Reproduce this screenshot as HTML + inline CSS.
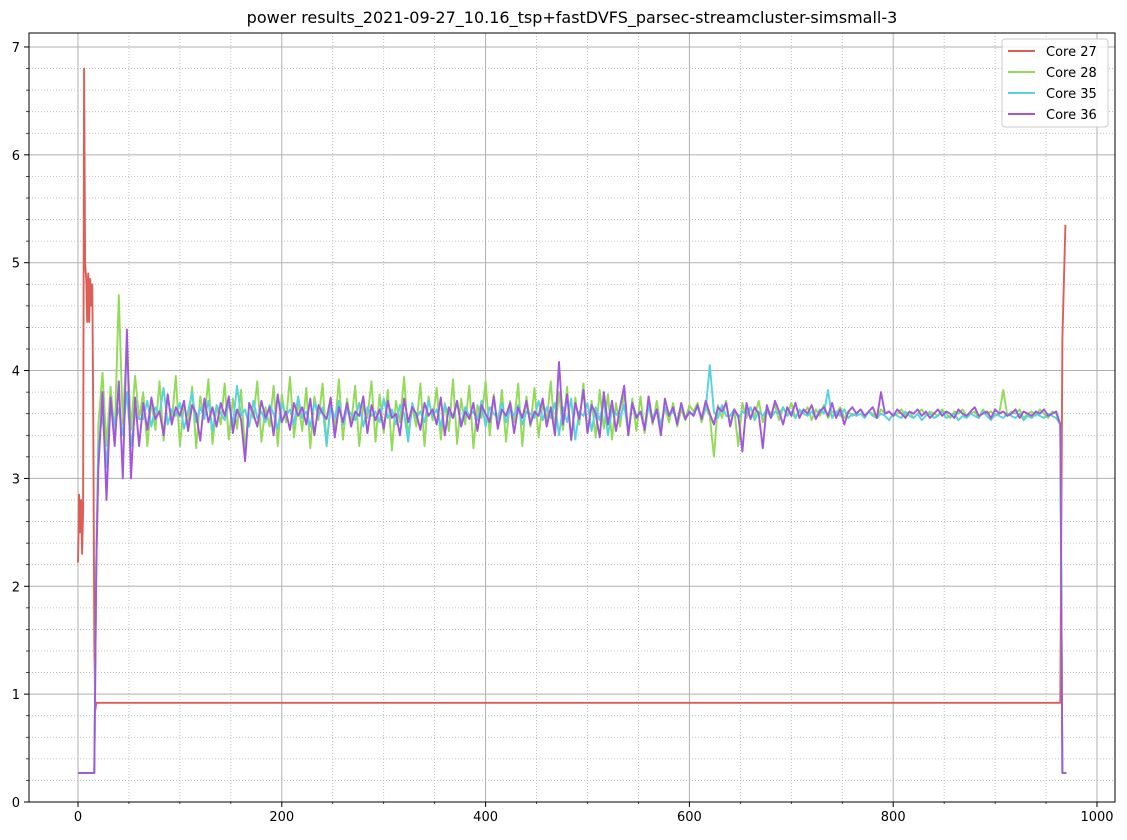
<!DOCTYPE html>
<html><head><meta charset="utf-8"><style>
body{margin:0;background:#fff;font-family:"DejaVu Sans","Liberation Sans",sans-serif}
svg text{font-family:"DejaVu Sans","Liberation Sans",sans-serif}
</style></head><body>
<svg id="chart" width="1127" height="836" xmlns="http://www.w3.org/2000/svg">
<text x="572" y="23" font-size="16" text-anchor="middle" fill="#000">power results_2021-09-27_10.16_tsp+fastDVFS_parsec-streamcluster-simsmall-3</text>
<g id="grid"></g>
<g id="series"></g>
<rect x="29" y="33" width="1086" height="769" fill="none" stroke="#000" stroke-width="1"/>
<g id="axes"></g>
<g>
<rect x="1002" y="39" width="106" height="88" rx="3" fill="#fff" fill-opacity="0.85" stroke="#ccc"/>
<g><line x1="1008" y1="51" x2="1035" y2="51" stroke="#db5f57" stroke-width="2"/><text x="1046" y="56" font-size="13">Core 27</text></g>
<g><line x1="1008" y1="72" x2="1035" y2="72" stroke="#91db57" stroke-width="2"/><text x="1046" y="77" font-size="13">Core 28</text></g>
<g><line x1="1008" y1="93" x2="1035" y2="93" stroke="#57d3db" stroke-width="2"/><text x="1046" y="98" font-size="13">Core 35</text></g>
<g><line x1="1008" y1="114" x2="1035" y2="114" stroke="#a157db" stroke-width="2"/><text x="1046" y="119" font-size="13">Core 36</text></g>
</g>
</svg>
<script>
const xTicks=[0,200,400,600,800,1000];
const yTicks=[0,1,2,3,4,5,6,7];
const core27X=[0,1,2,3,4,5,6,7,8,9,10,11,12,13,14,15,16,17,18,964,966,969];
const core27Y=[2.22,2.85,2.5,2.8,2.3,2.7,6.8,5.0,4.85,4.45,4.9,4.45,4.85,4.6,4.8,3.5,1.5,0.85,0.92,0.92,4.3,5.35];
const headX=[0,16,18];
const headY=[0.27,0.27,2.2];
const tailX=[964,966,970];
const tailY=[3.5,0.27,0.27];
const core28=[3.50,3.98,3.30,3.85,3.40,4.70,3.50,4.27,3.45,3.95,3.55,
3.80,3.30,3.72,3.45,3.90,3.35,3.78,3.52,3.95,3.30,3.70,3.48,3.85,3.28,3.76,3.55,3.92,3.32,3.68,3.50,
3.88,3.36,3.74,3.46,3.82,3.26,3.70,3.56,3.90,3.34,3.66,3.48,3.86,3.30,3.78,3.52,3.94,3.38,3.72,3.44,
3.84,3.28,3.76,3.54,3.88,3.32,3.70,3.46,3.92,3.36,3.74,3.50,3.86,3.30,3.68,3.56,3.90,3.34,3.78,3.42,
3.82,3.26,3.72,3.52,3.94,3.38,3.66,3.48,3.88,3.30,3.76,3.54,3.84,3.36,3.70,3.44,3.92,3.32,3.74,3.50,
3.86,3.28,3.68,3.56,3.90,3.40,3.78,3.46,3.82,3.34,3.72,3.52,3.88,3.30,3.76,3.48,3.84,3.38,3.70,3.54,
3.90,3.40,3.80,3.45,3.85,3.35,3.75,3.50,3.88,3.42,3.72,3.38,3.82,3.46,3.78,3.36,3.70,3.48,3.80,3.40,3.74,3.44,3.76,3.42,3.68,3.50,3.72,3.46,3.66,3.52,3.70,3.48,3.64,3.54,3.68,
3.62,3.70,3.52,3.66,3.58,3.20,3.68,3.56,3.72,3.50,3.64,3.30,3.70,3.56,3.66,3.58,3.72,3.52,3.64,3.60,3.68,3.54,3.66,3.58,3.70,3.56,3.62,3.60,3.66,3.54,3.64,3.58,3.68,3.56,3.62,3.60,3.66,3.56,3.62,3.58,
3.60,3.64,3.58,3.62,3.60,3.56,3.64,3.60,3.62,3.58,3.60,3.64,3.58,3.62,3.56,3.60,3.64,3.58,3.62,3.60,3.58,3.64,3.60,3.56,3.62,3.60,3.64,3.58,3.60,3.62,3.56,3.64,3.60,3.62,3.58,3.60,3.82,3.58,3.62,3.60,3.64,3.56,3.60,3.62,3.58,3.64,3.60,3.56,3.62,3.60];
const core35=[3.30,3.60,3.10,3.70,3.50,3.65,3.40,3.80,3.30,3.60,3.55,
3.55,3.72,3.48,3.66,3.60,3.84,3.50,3.64,3.58,3.70,3.46,3.62,3.80,3.52,3.66,3.56,3.72,3.44,3.68,3.60,
3.54,3.70,3.50,3.86,3.58,3.64,3.48,3.72,3.56,3.62,3.52,3.68,3.60,3.46,3.70,3.58,3.64,3.50,3.76,3.56,
3.62,3.48,3.70,3.58,3.66,3.30,3.68,3.56,3.72,3.50,3.64,3.60,3.54,3.70,3.48,3.66,3.58,3.62,3.52,3.74,
3.56,3.64,3.50,3.68,3.60,3.34,3.70,3.56,3.62,3.52,3.72,3.58,3.64,3.48,3.68,3.60,3.56,3.70,3.50,3.66,
3.58,3.62,3.54,3.72,3.48,3.66,3.60,3.56,3.70,3.52,3.64,3.58,3.68,3.50,3.62,3.60,3.56,3.72,3.54,3.66,
3.56,3.70,3.40,3.66,3.52,3.74,3.36,3.62,3.58,3.70,3.44,3.66,3.54,3.72,3.40,3.64,3.60,3.56,3.68,3.42,3.70,3.58,3.62,3.46,3.68,3.56,3.64,3.50,3.66,3.58,3.62,3.54,3.68,3.56,3.60,
3.60,3.66,3.56,3.64,4.05,3.62,3.56,3.68,3.58,3.58,3.64,3.56,3.62,3.60,3.66,3.54,3.62,3.58,3.64,3.56,3.62,3.60,3.66,3.58,3.62,3.56,3.64,3.60,3.58,3.62,3.56,3.64,3.60,3.82,3.56,3.62,3.58,3.64,3.56,3.60,
3.58,3.60,3.56,3.62,3.58,3.56,3.60,3.58,3.54,3.60,3.58,3.56,3.62,3.58,3.56,3.60,3.54,3.58,3.60,3.56,3.58,3.62,3.56,3.58,3.60,3.54,3.58,3.56,3.60,3.58,3.56,3.62,3.58,3.54,3.60,3.58,3.56,3.60,3.58,3.56,3.60,3.54,3.58,3.56,3.60,3.58,3.56,3.60,3.58,3.56];
const core36=[3.10,3.80,2.80,3.75,3.30,3.90,3.00,4.38,3.00,3.75,3.30,
3.70,3.45,3.75,3.55,3.62,3.40,3.78,3.50,3.66,3.58,3.72,3.44,3.68,3.60,3.35,3.74,3.52,3.66,3.48,3.70,
3.58,3.76,3.42,3.64,3.55,3.16,3.70,3.60,3.48,3.72,3.56,3.66,3.40,3.78,3.52,3.62,3.45,3.70,3.58,3.66,
3.50,3.74,3.40,3.68,3.60,3.55,3.75,3.38,3.66,3.52,3.70,3.48,3.62,3.58,3.76,3.42,3.68,3.54,3.64,3.46,
3.72,3.56,3.60,3.40,3.74,3.52,3.66,3.60,3.45,3.70,3.58,3.64,3.50,3.75,3.40,3.66,3.56,3.72,3.48,3.62,
3.55,3.70,3.44,3.68,3.60,3.52,3.76,3.46,3.64,3.58,3.70,3.42,3.66,3.56,3.72,3.50,3.62,3.58,3.74,3.48,
3.66,3.40,4.08,3.50,3.78,3.36,3.70,3.55,3.82,3.42,3.68,3.60,3.38,3.80,3.50,3.72,3.44,3.66,3.86,3.40,3.70,3.56,3.62,3.45,3.76,3.52,3.64,3.40,3.74,3.58,3.66,3.50,3.70,3.55,3.62,
3.58,3.68,3.55,3.72,3.60,3.50,3.66,3.62,3.70,3.48,3.64,3.58,3.25,3.70,3.55,3.66,3.60,3.28,3.68,3.56,3.72,3.62,3.50,3.66,3.58,3.70,3.56,3.64,3.60,3.68,3.55,3.62,3.66,3.58,3.70,3.56,3.64,3.50,3.62,3.66,
3.60,3.64,3.58,3.62,3.66,3.56,3.80,3.60,3.62,3.58,3.64,3.60,3.56,3.62,3.60,3.64,3.58,3.62,3.56,3.60,3.64,3.58,3.62,3.60,3.56,3.64,3.60,3.58,3.62,3.66,3.58,3.60,3.62,3.56,3.64,3.60,3.62,3.58,3.60,3.64,3.56,3.62,3.60,3.58,3.62,3.60,3.64,3.58,3.60,3.62];
const NS='http://www.w3.org/2000/svg';
const X0=78, XS=1.019, Y0=802, YS=107.86;
const sx=v=>X0+v*XS, sy=v=>Y0-v*YS;
function mk(tag,attrs,parent){const e=document.createElementNS(NS,tag);for(const k in attrs)e.setAttribute(k,attrs[k]);parent.appendChild(e);return e;}
const grid=document.getElementById('grid'), axes=document.getElementById('axes'), ser=document.getElementById('series');
for(let v=-50;v<=1050;v+=50){const x=sx(v);if(x<29||x>1115)continue;
 const major=v%200===0;
 const l=mk('line',{x1:x,x2:x,y1:33,y2:802,stroke:'#b0b0b0','stroke-width':major?1:0.8,'stroke-dasharray':major?'none':'1,2'},grid);
 
 
 const t=mk('line',{x1:x,x2:x,y1:802,y2:major?807:804,stroke:'#000','stroke-width':major?1:0.7},axes);
 
 
}
for(let k=0;k<=35;k++){const v=k*0.2;const y=sy(v);if(y<33)continue;
 const major=k%5===0;
 const l=mk('line',{x1:29,x2:1115,y1:y,y2:y,stroke:'#b0b0b0','stroke-width':major?1:0.8,'stroke-dasharray':major?'none':'1,2'},grid);
 
 
 const t=mk('line',{x1:major?24:26,x2:29,y1:y,y2:y,stroke:'#000','stroke-width':major?1:0.7},axes);
 
 
}
xTicks.forEach(v=>{const t=mk('text',{x:sx(v),y:821,'font-size':13,'text-anchor':'middle'},axes);t.textContent=v;
 
 });
yTicks.forEach(v=>{const t=mk('text',{x:20,y:sy(v)+5,'font-size':13,'text-anchor':'end'},axes);t.textContent=v;
 
 });
function line(xs,ys,color,name){const d=xs.map((x,i)=>(i?'L':'M')+sx(x).toFixed(1)+','+sy(ys[i]).toFixed(1)).join('');
 const p=mk('path',{d:d,fill:'none',stroke:color,'stroke-width':1.9,'stroke-linejoin':'round'},ser);
 
 }
function noisy(vals){const xs=headX.slice(),ys=headY.slice();vals.forEach((v,i)=>{xs.push(20+4*i);ys.push(v);});return [xs.concat(tailX),ys.concat(tailY)];}
line(core27X,core27Y,'#db5f57','core-27-line');
let r=noisy(core28);line(r[0],r[1],'#91db57','core-28-line');
r=noisy(core35);line(r[0],r[1],'#57d3db','core-35-line');
r=noisy(core36);line(r[0],r[1],'#a157db','core-36-line');
</script>
</body></html>
